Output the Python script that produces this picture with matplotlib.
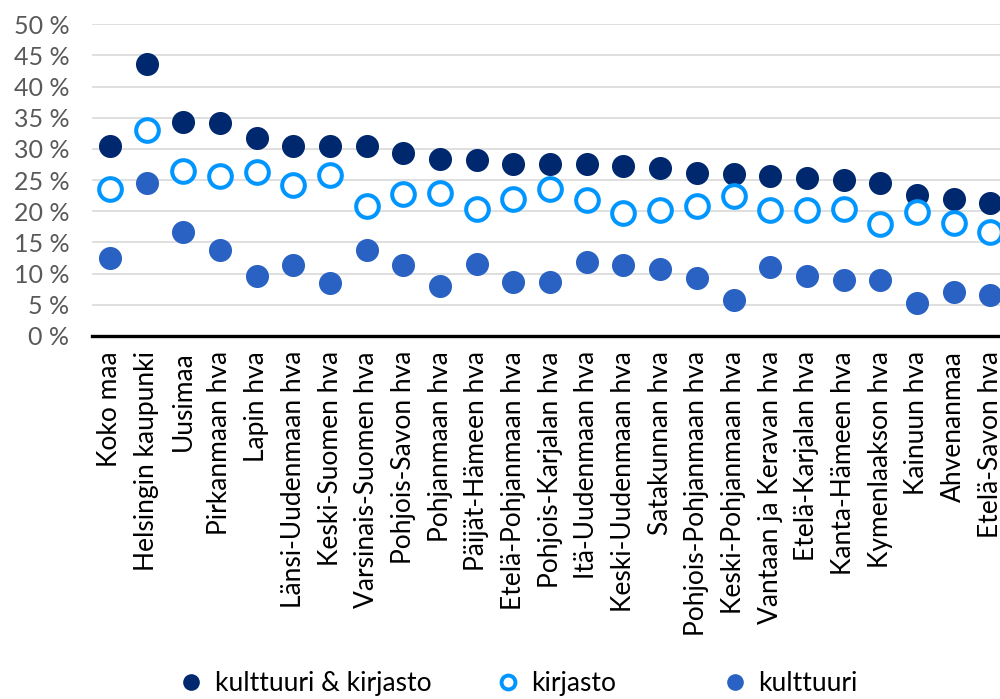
import matplotlib
matplotlib.use("Agg")
import matplotlib.pyplot as plt
from matplotlib.lines import Line2D

plt.rcParams['font.family'] = ['Lato', 'DejaVu Sans']

# =========================================================================
# Data (shares, %)
categories = [
    'Koko maa', 'Helsingin kaupunki', 'Uusimaa', 'Pirkanmaan hva', 'Lapin hva',
    'Länsi-Uudenmaan hva', 'Keski-Suomen hva', 'Varsinais-Suomen hva',
    'Pohjois-Savon hva', 'Pohjanmaan hva', 'Päijät-Hämeen hva',
    'Etelä-Pohjanmaan hva', 'Pohjois-Karjalan hva', 'Itä-Uudenmaan hva',
    'Keski-Uudenmaan hva', 'Satakunnan hva', 'Pohjois-Pohjanmaan hva',
    'Keski-Pohjanmaan hva', 'Vantaan ja Keravan hva', 'Etelä-Karjalan hva',
    'Kanta-Hämeen hva', 'Kymenlaakson hva', 'Kainuun hva', 'Ahvenanmaa',
    'Etelä-Savon hva',
]
kulttuuri_kirjasto = [30.5, 43.6, 34.4, 34.2, 31.8, 30.5, 30.4, 30.4, 29.4, 28.4, 28.2,
                      27.6, 27.6, 27.5, 27.2, 27.0, 26.1, 25.9, 25.7, 25.3, 25.0, 24.6,
                      22.6, 22.0, 21.3]
kirjasto = [23.6, 33.1, 26.4, 25.6, 26.3, 24.2, 25.8, 20.9, 22.7, 22.9, 20.4,
            22.0, 23.6, 21.8, 19.7, 20.2, 20.9, 22.5, 20.2, 20.2, 20.3, 18.0,
            19.9, 18.1, 16.7]
kulttuuri = [12.5, 24.5, 16.6, 13.7, 9.6, 11.4, 8.5, 13.7, 11.3, 8.0, 11.5,
             8.7, 8.7, 11.9, 11.4, 10.7, 9.2, 5.8, 11.1, 9.6, 9.0, 9.0,
             5.2, 7.1, 6.6]
yticks = [0, 5, 10, 15, 20, 25, 30, 35, 40, 45, 50]
legend_labels = ['kulttuuri & kirjasto', 'kirjasto', 'kulttuuri']

DARK = '#00286E'
LIGHT = '#0096FF'
MID = '#2A62C4'

# =========================================================================
# Plot
fig = plt.figure(figsize=(10, 6.99), dpi=100)
ax = fig.add_axes([0.0916, 0.5196, 0.917, 0.4456])

x = list(range(len(categories)))
ax.plot(x, kulttuuri_kirjasto, 'o', ms=16.6, color=DARK, mec=DARK, mew=0, zorder=3)
ax.plot(x, kirjasto, 'o', ms=16.3, mfc='white', mec=LIGHT, mew=2.9, zorder=4)
ax.plot(x, kulttuuri, 'o', ms=16.6, color=MID, mec=MID, mew=0, zorder=3)

ax.set_xlim(-0.5, len(categories) - 0.5)
ax.set_ylim(0, 50)
ax.set_yticks(yticks)
ax.set_yticklabels([f'{v} %' for v in yticks])
ax.set_xticks(x)
ax.set_xticklabels(categories, rotation=90, ha='center', va='top')

ax.grid(axis='y', color='#D9D9D9', linewidth=1.2)
ax.set_axisbelow(True)
for side in ['top', 'right', 'left']:
    ax.spines[side].set_visible(False)
ax.spines['bottom'].set_linewidth(2.4)
ax.spines['bottom'].set_color('black')
ax.spines['bottom'].set_zorder(5)

ax.tick_params(axis='y', length=0, pad=16, labelsize=18, labelcolor='#595959')
ax.tick_params(axis='x', length=0, pad=11, labelsize=19, labelcolor='black')

# Legend: one entry each, Excel spaces them unevenly
handles = [
    Line2D([], [], ls='', marker='o', ms=12, color=DARK, mew=0),
    Line2D([], [], ls='', marker='o', ms=10, mfc='white', mec=LIGHT, mew=2.8),
    Line2D([], [], ls='', marker='o', ms=12, color=MID, mew=0),
]
legend_x = [0.1805, 0.497, 0.7245]
for h, lab, lx in zip(handles, legend_labels, legend_x):
    fig.legend([h], [lab], loc='center left', bbox_to_anchor=(lx, 0.022),
               frameon=False, fontsize=19, handlelength=0.8, handletextpad=0.49,
               borderpad=0, borderaxespad=0)

fig.savefig('out.png', dpi=100)
